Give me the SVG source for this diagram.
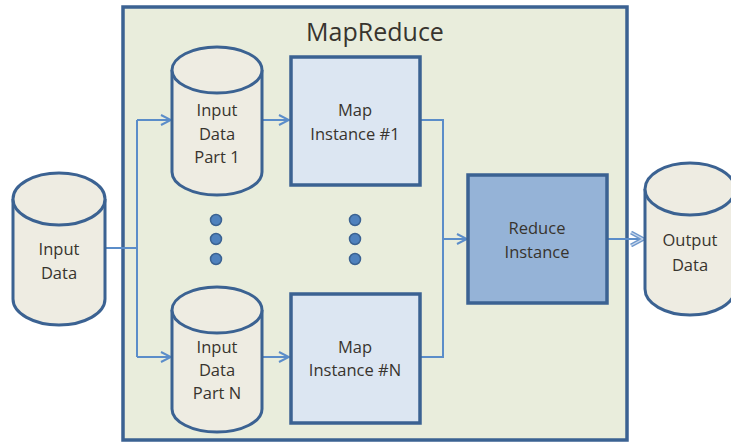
<svg xmlns="http://www.w3.org/2000/svg" width="731" height="444" viewBox="0 0 731 444">
<style>
.cyl{fill:#eeece2;stroke:#3b6292;stroke-width:3}
.box{stroke:#3b6292;stroke-width:3.5}
.map{fill:#dce6f2}
.red{fill:#95b3d7}
.t{font-family:"Open Sans","Liberation Sans",sans-serif;font-size:16.5px;fill:#38342e;text-anchor:middle}
.c{fill:none;stroke:#5b8dc9;stroke-width:2}
.dot{fill:#4f81bd;stroke:#3b6292;stroke-width:1.5}
</style>
<defs>
<marker id="ar" viewBox="0 0 12 12" refX="11" refY="6" markerWidth="12" markerHeight="12" markerUnits="userSpaceOnUse" orient="auto">
<path d="M1,1 L11,6 L1,11" fill="none" stroke="#5b8dc9" stroke-width="2"/>
</marker>
<marker id="ar2" viewBox="0 0 16 16" refX="14" refY="8" markerWidth="16" markerHeight="16" markerUnits="userSpaceOnUse" orient="auto">
<path d="M2,1.5 L14,8 L2,14.5" fill="none" stroke="#6f98cc" stroke-width="4"/>
<path d="M2,1.5 L14,8 L2,14.5" fill="none" stroke="#c9d8ec" stroke-width="1.3"/>
</marker>
</defs>
<rect x="0" y="0" width="731" height="444" fill="#ffffff"/>
<g id="mapreduce">
<rect class="box" x="123" y="7" width="504" height="433" fill="#e9eddc"/>
<text x="375" y="41" class="t" style="font-size:25px">MapReduce</text>
</g>
<g id="connectors">
<path class="c" d="M106,248 H137"/>
<path class="c" d="M137,120 V357"/>
<path class="c" d="M137,120 H171" marker-end="url(#ar)"/>
<path class="c" d="M137,357 H171" marker-end="url(#ar)"/>
<path class="c" d="M263,120 H289" marker-end="url(#ar)"/>
<path class="c" d="M263,357 H289" marker-end="url(#ar)"/>
<path class="c" d="M420,120 H443 V357 H420"/>
<path class="c" d="M443,239 H467" marker-end="url(#ar)"/>
<path class="c" d="M607,239 H643" marker-end="url(#ar2)"/>
</g>
<g id="input-data">
<path class="cyl" d="M13,199 V299 A46,26 0 0 0 105,299 V199"/>
<ellipse class="cyl" cx="59" cy="199" rx="46" ry="26"/>
<text class="t" x="59" y="255">Input</text>
<text class="t" x="59" y="279">Data</text>
</g>
<g id="input-part-1">
<path class="cyl" d="M172,70 V172 A45,23 0 0 0 262,172 V70"/>
<ellipse class="cyl" cx="217" cy="70" rx="45" ry="23"/>
<text class="t" x="217" y="116">Input</text>
<text class="t" x="217" y="140">Data</text>
<text class="t" x="217" y="163">Part 1</text>
</g>
<g id="input-part-n">
<path class="cyl" d="M172,310 V409 A45,23 0 0 0 262,409 V310"/>
<ellipse class="cyl" cx="217" cy="310" rx="45" ry="23"/>
<text class="t" x="217" y="353">Input</text>
<text class="t" x="217" y="376">Data</text>
<text class="t" x="217" y="399">Part N</text>
</g>
<g id="dots-left">
<circle class="dot" cx="216" cy="220" r="5.5"/>
<circle class="dot" cx="216" cy="239" r="5.5"/>
<circle class="dot" cx="216" cy="259" r="5.5"/>
</g>
<g id="dots-right">
<circle class="dot" cx="355" cy="220" r="5.5"/>
<circle class="dot" cx="355" cy="239" r="5.5"/>
<circle class="dot" cx="355" cy="259" r="5.5"/>
</g>
<g id="map-1">
<rect class="box map" x="291" y="57" width="129" height="128"/>
<text class="t" x="355" y="116">Map</text>
<text class="t" x="355" y="140">Instance #1</text>
</g>
<g id="map-n">
<rect class="box map" x="291" y="294" width="129" height="129"/>
<text class="t" x="355" y="353">Map</text>
<text class="t" x="355" y="376">Instance #N</text>
</g>
<g id="reduce">
<rect class="box red" x="468" y="175" width="139" height="128"/>
<text class="t" x="537" y="234">Reduce</text>
<text class="t" x="537" y="258">Instance</text>
</g>
<g id="output-data">
<path class="cyl" d="M645,189 V289 A45,26 0 0 0 735,289 V189"/>
<ellipse class="cyl" cx="690" cy="189" rx="45" ry="26"/>
<text class="t" x="690" y="246">Output</text>
<text class="t" x="690" y="271">Data</text>
</g>
</svg>
